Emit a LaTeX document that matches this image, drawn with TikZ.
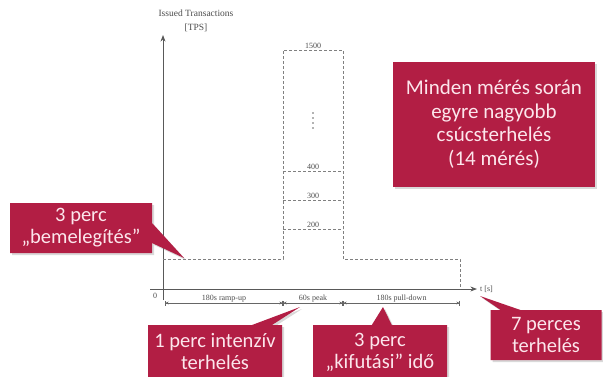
\documentclass[tikz,border=0pt]{standalone}
\usepackage{fontspec}
\setmainfont{Liberation Serif}
\newfontfamily\callfont{Carlito}
\usetikzlibrary{arrows.meta,positioning,shapes.callouts,shadows}

\definecolor{callred}{RGB}{178,30,68}
\definecolor{calltext}{RGB}{252,230,236}

\begin{document}
\begin{tikzpicture}[
    x=1pt, y=-1pt,
    >=Stealth,
    axis/.style={draw=black!65, line width=0.8pt},
    level/.style={draw=black!50, dash pattern=on 3pt off 2pt, line width=0.7pt},
    dim/.style={draw=black!60, line width=0.6pt,
        {Bar[width=5pt]Stealth[length=3pt,width=3pt]}-{Stealth[length=3pt,width=3pt]Bar[width=5pt]}},
    tick/.style={font=\fontsize{8}{9}\selectfont, text=black!70, inner sep=1pt},
    redbox/.style={fill=callred, text=calltext,
        font=\callfont\fontsize{20.5}{22}\selectfont, align=center, inner sep=2pt,
        drop shadow={opacity=0.3, shadow xshift=2pt, shadow yshift=-2pt}},
    callbox/.style={redbox, rectangle callout, callout pointer width=20pt}
]
\useasboundingbox (0,0) rectangle (603,376);
\clip (0,0) rectangle (603,376);

% axes
\coordinate (O) at (163,289);
\coordinate (ybot) at (163,300);
\coordinate (ytop) at (163,35);
\coordinate (xleft) at (150,289);
\coordinate (xright) at (477,289);
\draw[axis,->] (ybot) -- (ytop);
\draw[axis,->] (xleft) -- (xright);
\node[tick, align=center, font=\fontsize{9.5}{14}\selectfont] (ylab) at (196,21) {Issued Transactions\\{}[TPS]};
\node[tick, anchor=west] (xlab) at (479,289) {t [s]};
\node[tick] (zero) at (155,296) {0};

% load profile
\coordinate (p0) at (163,259);
\coordinate (p1) at (283,259);
\coordinate (p2) at (283,50);
\coordinate (p3) at (343,50);
\coordinate (p4) at (343,259);
\coordinate (p5) at (460,259);
\coordinate (p6) at (460,289);
\draw[level] (p0) -- (p1) -- (p2) -- (p3) -- (p4) -- (p5) -- (p6);
\node[tick, above] (top) at (313,50) {1500};
\foreach \lv/\yy in {400/171,300/200,200/229} {
    \draw[level] (283,\yy) -- (343,\yy) node[tick, midway, above] {\lv};
}
\foreach \dd in {113,118,123,128} \fill[black!60] (313,\dd) circle (0.9pt);

% phases
\coordinate (d0) at (165,303);
\coordinate (d1) at (283,303);
\coordinate (d2) at (343,303);
\coordinate (d3) at (460,303);
\draw[dim] (d0) -- node[tick, above] {180s ramp-up} (d1);
\draw[dim] (d1) -- node[tick, above] {60s peak} (d2);
\draw[dim] (d2) -- node[tick, above] {180s pull-down} (d3);

% callouts
\coordinate (warm) at (184,258);
\coordinate (peak) at (300,307);
\coordinate (down) at (383,307);
\coordinate (total) at (480,296);
\node[callbox, minimum width=142pt, minimum height=50pt,
    callout absolute pointer={(warm)}] (bemeleg) at (81,228) {3 perc\\„bemelegítés”};
\node[redbox, minimum width=202pt, minimum height=125pt, font=\callfont\fontsize{21}{23.5}\selectfont]
    (meres) at (494,124) {Minden mérés során\\egyre nagyobb\\csúcsterhelés\\(14 mérés)};
\node[callbox, minimum width=134pt, minimum height=54pt,
    callout absolute pointer={(peak)}] (intenziv) at (215,352) {1 perc intenzív\\terhelés};
\node[callbox, minimum width=134pt, minimum height=54pt,
    callout absolute pointer={(down)}] (kifut) at (380,352) {3 perc\\„kifutási” idő};
\node[callbox, minimum width=111pt, minimum height=50pt,
    callout absolute pointer={(total)}] (perces) at (546,335) {7 perces\\terhelés};

\end{tikzpicture}
\end{document}
